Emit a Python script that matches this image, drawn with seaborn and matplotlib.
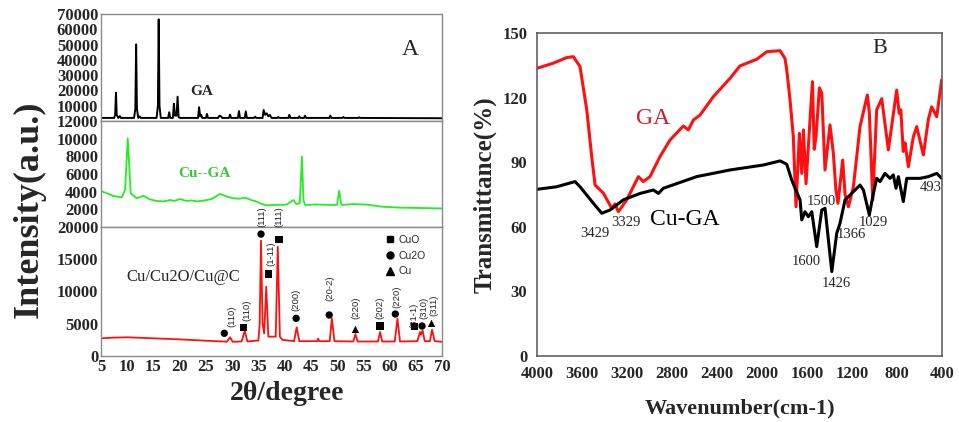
import matplotlib
matplotlib.use("Agg")
import matplotlib.pyplot as plt
import seaborn as sns
import pandas as pd
from matplotlib.lines import Line2D

sns.set_theme(style="white")
plt.rcParams['font.family'] = ['Liberation Serif', 'DejaVu Serif']

# ---------------- Panel A data (XRD) ----------------
ga_2theta = [5.0, 7.5, 7.7, 7.86, 8.0, 8.3, 8.6, 8.8,
             11.3, 11.55, 11.7, 11.85, 12.1, 12.4, 12.6,
             15.6, 15.85, 16.0, 16.15, 16.4,
             17.8, 18.0, 18.2, 18.7, 18.9, 19.1, 19.4, 19.6, 19.8, 20.1,
             23.5, 23.7, 23.9, 24.1, 24.3,
             25.0, 25.2, 25.4,
             27.3, 27.6, 27.9, 28.1,
             29.4, 29.6, 29.8,
             31.1, 31.3, 31.5,
             32.4, 32.6, 32.8,
             34.2, 34.4, 34.6,
             35.8, 36.0, 36.3, 36.6, 36.9, 37.2, 37.5,
             38.6, 38.8, 39.0,
             40.7, 40.9, 41.1,
             42.6, 42.8, 43.0,
             43.7, 43.9, 44.1,
             48.5, 48.7, 48.9,
             51.0, 51.2, 51.4,
             54.0, 54.2, 54.4,
             70.0]
ga_intensity = [2000, 2000, 4000, 18500, 4000, 2000, 3200, 2000,
                2000, 8000, 50100, 8000, 2000, 3000, 2000,
                2000, 10000, 66500, 10000, 2000,
                2000, 5700, 2000, 2000, 11300, 3500, 3500, 15900, 2500, 2000,
                2000, 9000, 3000, 4000, 2000,
                2000, 4600, 2000,
                2000, 3500, 3000, 2000,
                2000, 4200, 2000,
                2000, 6500, 2000,
                2000, 6300, 2000,
                2000, 2800, 2000,
                2000, 7200, 4000, 5000, 3000, 4000, 2000,
                2000, 2600, 2000,
                2000, 4000, 2000,
                2000, 3000, 2000,
                2000, 3500, 2000,
                2000, 3500, 2000,
                2000, 2600, 2000,
                2000, 2400, 2000,
                1800]

cuga_2theta = [5.0, 6.2, 7.35, 8.95, 9.6, 10.1, 10.67, 11.8, 13.1, 14.2, 15.6, 17.0, 18.2,
               19.0, 20.1, 21.2, 22.3, 23.4, 24.5, 26.0, 27.7, 29.0, 30.2, 31.4, 32.5,
               33.6, 34.7, 35.7, 36.6, 38.5, 40.4, 41.7, 42.2, 42.9, 43.3, 43.6, 43.9,
               46.0, 49.3, 50.0, 50.4, 50.8, 51.2, 53.0, 55.7, 58.5, 62.1, 66.0, 70.0]
cuga_intensity = [4075, 3800, 3510, 3360, 4200, 10040, 3810, 3250, 3530, 3150, 2940, 2900, 3060,
                  2950, 3170, 2950, 3000, 2900, 2980, 3150, 3740, 3450, 3250, 3200, 3320,
                  3050, 2870, 2600, 2450, 2500, 2530, 3060, 2600, 2700, 7960, 3000, 2490,
                  2550, 2490, 2500, 4110, 2550, 2500, 2600, 2530, 2300, 2190, 2150, 2100]

cu_2theta = [5.0, 7.5, 10.0, 12.5, 15.0, 20.0, 25.0, 29.0, 29.6, 30.1, 31.8, 32.4, 32.9,
             35.0, 35.25, 35.5, 35.8, 36.1, 36.5, 36.9, 38.3, 38.7, 39.1, 39.6,
             41.8, 42.3, 42.8, 46.2, 46.4, 46.6, 48.6, 49.0, 49.5,
             53.1, 53.5, 53.9, 57.8, 58.2, 58.6, 61.0, 61.5, 62.0,
             65.3, 65.8, 66.0, 66.3, 66.7, 67.7, 68.1, 68.6, 70.0]
cu_intensity = [2740, 2850, 2900, 2820, 2740, 2580, 2370, 2220, 2900, 2200, 2250, 3930, 2250,
                2400, 5000, 17880, 5000, 3500, 10740, 3000, 3000, 16940, 3000, 2500,
                2300, 4440, 2300, 2300, 2700, 2300, 2300, 5840, 2300,
                2250, 3410, 2250, 2250, 3720, 2250, 2250, 5790, 2250,
                2300, 3720, 3300, 3980, 2300, 2300, 4080, 2300, 2200]

# phase markers (2theta, intensity, phase) and Miller index labels
mark_2theta = [28.5, 32.2, 35.5, 38.9, 36.9, 42.2, 48.5, 53.5, 58.2, 61.1, 64.8, 66.2, 68.0]
mark_intensity = [3520, 4390, 18900, 18090, 12700, 5840, 6360, 4130, 4650, 6510, 4540, 4650, 5070]
mark_phase = ['Cu2O', 'CuO', 'Cu2O', 'CuO', 'CuO', 'Cu2O', 'Cu2O', 'Cu', 'CuO', 'Cu2O',
              'CuO', 'Cu2O', 'Cu']
hkl_text = ['(110)', '(110)', '(111)', '(111)', '(1-11)', '(200)', '(20-2)', '(220)', '(202)',
            '(220)', '(31-1)', '(310)', '(311)']
hkl_2theta = [30.0, 32.8, 35.6, 39.0, 37.4, 42.2, 48.7, 53.5, 58.2, 61.4, 64.6, 66.5, 68.4]
hkl_y = [6090, 7130, 21590, 21590, 15900, 8680, 10540, 7440, 7440, 9200, 6360, 7400, 7900]

# ---------------- Panel B data (FTIR) ----------------
ga_wn = [4000, 3855, 3736, 3677, 3618, 3558, 3514, 3484, 3410, 3336, 3307, 3277, 3203, 3099,
         3055, 2996, 2907, 2818, 2700, 2655, 2610, 2551, 2433, 2284, 2196, 2047, 1958, 1840,
         1796, 1780, 1751, 1722, 1698, 1668, 1647, 1632, 1609, 1552, 1536, 1520, 1490, 1469,
         1440, 1396, 1366, 1343, 1325, 1283, 1262, 1232, 1188, 1129, 1064, 1046, 1016, 981,
         936, 877, 803, 781, 766, 745, 729, 699, 655, 625, 566, 521, 506, 492, 447, 403]
ga_trans = [133.6, 136.0, 138.6, 139.0, 134.4, 114.3, 92.6, 79.4, 75.6, 68.6, 70.6, 67.0, 72.5,
            83.3, 81.0, 83.3, 92.6, 100.3, 106.8, 105.0, 109.6, 111.9, 120.4, 129.0, 134.7,
            137.8, 141.3, 141.8, 138.2, 132.8, 118.9, 101.8, 69.3, 103.4, 84.8, 105.0, 80.0,
            127.4, 96.0, 102.0, 124.5, 122.0, 86.4, 107.3, 94.1, 77.0, 70.9, 91.0, 75.0, 69.3,
            78.6, 106.5, 121.2, 113.0, 72.5, 114.3, 119.5, 95.7, 123.5, 112.7, 114.3, 95.0,
            99.0, 87.9, 101.8, 106.5, 93.4, 110.0, 113.0, 115.7, 111.1, 128.2]

cuga_wn = [4000, 3825, 3662, 3618, 3499, 3425, 3351, 3233, 3084, 2966, 2921, 2877, 2581,
           2284, 1988, 1840, 1796, 1780, 1736, 1707, 1662, 1647, 1618, 1588, 1558, 1514,
           1469, 1440, 1380, 1336, 1307, 1262, 1188, 1129, 1099, 1046, 1016, 981, 951, 907,
           862, 833, 809, 788, 744, 714, 596, 522, 447, 403]
cuga_trans = [77.4, 78.6, 81.0, 78.6, 70.9, 66.3, 67.8, 72.5, 75.5, 77.1, 75.5, 77.9, 83.3,
              86.4, 88.7, 90.6, 89.5, 89.0, 81.7, 78.0, 72.5, 63.2, 67.0, 64.7, 67.0, 50.8,
              67.8, 68.6, 39.2, 57.0, 61.6, 72.5, 76.3, 79.4, 77.1, 65.5, 74.0, 82.5, 81.0,
              84.8, 82.5, 84.1, 77.9, 83.3, 71.7, 82.5, 82.5, 83.3, 84.8, 82.5]

peak_text = ['3429', '3329', '1500', '1600', '1426', '1366', '1029', '493']
peak_wn = [3484, 3212, 1469, 1603, 1336, 1203, 1010, 500]
peak_t = [57.0, 61.9, 71.7, 43.8, 33.7, 56.2, 62.0, 78.4]

# ---------------- Figure ----------------
fig = plt.figure(figsize=(9.59, 4.22), dpi=100)
L, W = 0.1053, 0.3556
ax1 = fig.add_axes([L, 0.7133, W, 0.2536])
ax2 = fig.add_axes([L, 0.4621, W, 0.2512])
ax3 = fig.add_axes([L, 0.1564, W, 0.3057])
axB = fig.add_axes([0.560, 0.1564, 0.4223, 0.7654])

tick_font = dict(fontsize=12, fontweight='bold')
gray = '#8a8a8a'

sns.lineplot(x=ga_2theta, y=ga_intensity, ax=ax1, color='black', lw=1.4, sort=False, estimator=None)
sns.lineplot(x=cuga_2theta, y=cuga_intensity, ax=ax2, color='#22ee22', lw=1.3, sort=False, estimator=None)
sns.lineplot(x=cu_2theta, y=cu_intensity, ax=ax3, color='#ff1010', lw=1.3, sort=False, estimator=None)

for ax in (ax1, ax2, ax3):
    ax.set_xlim(5, 70)
    for s in ax.spines.values():
        s.set_color(gray)
        s.set_linewidth(1.0)
    ax.tick_params(axis='both', which='both', length=0, pad=2)
    ax.set_xlabel('')
    ax.set_ylabel('')

ax1.set_ylim(0, 70000)
ax1.set_yticks(list(range(10000, 70001, 10000)))
ax1.set_yticklabels([str(v) for v in range(10000, 70001, 10000)], **tick_font)
ax1.set_xticks([])
ax1.text(64.0, 47000, 'A', fontsize=17, ha='center', va='center')
ax1.text(24.2, 19500, 'GA', fontsize=11, fontweight='bold', ha='center', va='center')

ax2.set_ylim(0, 12000)
ax2.set_yticks(list(range(2000, 12001, 2000)))
ax2.set_yticklabels([str(v) for v in range(2000, 12001, 2000)], **tick_font)
ax2.set_xticks([])
ax2.text(24.7, 6100, 'Cu--GA', fontsize=11, fontweight='bold', color='#33cc33', ha='center', va='center')

ax3.set_ylim(0, 20000)
ax3.set_yticks(list(range(0, 20001, 5000)))
ax3.set_yticklabels([str(v) for v in range(0, 20001, 5000)], **tick_font)
ax3.set_xticks(list(range(5, 71, 5)))
ax3.set_xticklabels([str(v) for v in range(5, 71, 5)], **tick_font)
ax3.tick_params(axis='x', length=2, direction='in', color=gray)
ax3.text(20.6, 12250, 'Cu/Cu2O/Cu@C', fontsize=12, ha='center', va='center')

mk = pd.DataFrame({'x': mark_2theta, 'y': mark_intensity, 'phase': mark_phase})
sns.scatterplot(data=mk, x='x', y='y', style='phase', style_order=['CuO', 'Cu2O', 'Cu'],
                markers={'CuO': 's', 'Cu2O': 'o', 'Cu': '^'}, color='black', s=28,
                edgecolor='black', linewidth=0, ax=ax3, clip_on=False, zorder=5)
for t, x, y in zip(hkl_text, hkl_2theta, hkl_y):
    ax3.text(x, y, t, rotation=90, fontsize=6.8, family='Liberation Sans',
             ha='center', va='center', zorder=6)
handles = [Line2D([], [], marker='s', color='black', ls='', markersize=5),
           Line2D([], [], marker='o', color='black', ls='', markersize=5),
           Line2D([], [], marker='^', color='black', ls='', markersize=6)]
ax3.legend(handles, ['CuO', 'Cu2O', 'Cu'], loc='upper right', bbox_to_anchor=(0.965, 0.97),
           frameon=False, handletextpad=0.3, labelspacing=0.55,
           handlelength=1.0, borderaxespad=0, prop={'family': 'Liberation Sans', 'size': 7.5})
ax3.set_xlabel('')
ax3.set_ylabel('')

fig.text(0.030, 0.505, 'Intensity(a.u.)', rotation=90, fontsize=26, fontweight='bold',
         ha='center', va='center')
fig.text(0.2995, 0.068, '2θ/degree', fontsize=20, fontweight='bold', ha='center', va='center')

# ---------------- Panel B ----------------
sns.lineplot(x=ga_wn, y=ga_trans, ax=axB, color='#ff1010', lw=2.2, sort=False, estimator=None)
sns.lineplot(x=cuga_wn, y=cuga_trans, ax=axB, color='black', lw=2.2, sort=False, estimator=None)
axB.set_xlim(4000, 400)
axB.set_ylim(0, 150)
axB.set_xticks(list(range(4000, 399, -400)))
axB.set_xticklabels([str(v) for v in range(4000, 399, -400)], **tick_font)
axB.set_yticks(list(range(0, 151, 30)))
axB.set_yticklabels([str(v) for v in range(0, 151, 30)], **tick_font)
axB.tick_params(axis='both', length=4, width=1, direction='out', color='#444444', pad=3)
for s in axB.spines.values():
    s.set_color('#555555')
    s.set_linewidth(1.1)
axB.set_xlabel('Wavenumber(cm-1)', fontsize=16, fontweight='bold', labelpad=12)
axB.set_ylabel('Transmittance(%)', fontsize=18, fontweight='bold', labelpad=4)
axB.text(952, 142.9, 'B', fontsize=16, ha='center', va='center')
axB.text(2966, 110.4, 'GA', fontsize=17, color='#c8202a', ha='center', va='center')
axB.text(2684, 63.2, 'Cu-GA', fontsize=17, color='black', ha='center', va='center')
for t, x, y in zip(peak_text, peak_wn, peak_t):
    axB.text(x, y, t, fontsize=10.5, ha='center', va='center')

fig.savefig('out.png', dpi=100)
